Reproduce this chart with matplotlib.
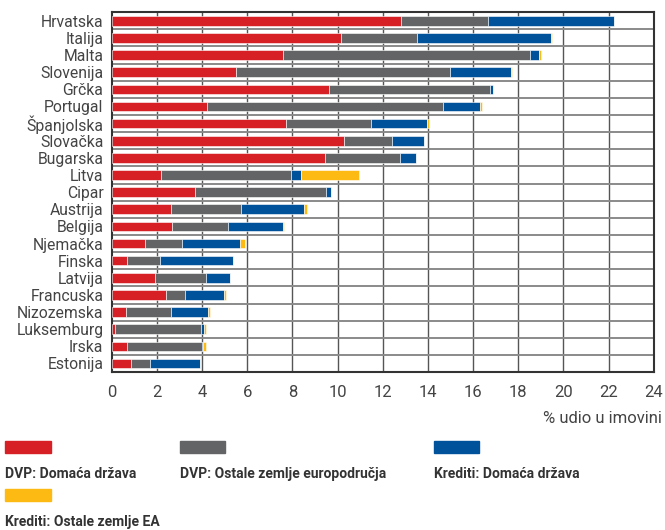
import numpy as np
import matplotlib.pyplot as plt
from matplotlib.patches import Rectangle

plt.rcParams['font.family'] = ['Liberation Sans Narrow', 'Roboto', 'DejaVu Sans']

countries = ["Hrvatska", "Italija", "Malta", "Slovenija", "Grčka", "Portugal",
             "Španjolska", "Slovačka", "Bugarska", "Litva", "Cipar", "Austrija",
             "Belgija", "Njemačka", "Finska", "Latvija", "Francuska", "Nizozemska",
             "Luksemburg", "Irska", "Estonija"]

dvp_domestic = [12.80, 10.14, 7.59, 5.50, 9.62, 4.24, 7.71, 10.27, 9.43, 2.18, 3.68,
                2.63, 2.69, 1.48, 0.69, 1.92, 2.41, 0.63, 0.13, 0.69, 0.86]
dvp_other_ea = [3.85, 3.40, 10.92, 9.47, 7.12, 10.45, 3.77, 2.16, 3.35, 5.76, 5.80,
                3.11, 2.48, 1.65, 1.44, 2.27, 0.85, 2.01, 3.84, 3.30, 0.85]
loans_domestic = [5.60, 5.90, 0.41, 2.69, 0.13, 1.61, 2.48, 1.40, 0.70, 0.43, 0.22,
                  2.76, 2.40, 2.54, 3.26, 1.05, 1.70, 1.61, 0.13, 0.04, 2.19]
loans_other_ea = [0.00, 0.07, 0.08, 0.07, 0.00, 0.09, 0.08, 0.00, 0.00, 2.56, 0.00,
                  0.14, 0.08, 0.22, 0.00, 0.00, 0.09, 0.08, 0.08, 0.15, 0.00]

series = [dvp_domestic, dvp_other_ea, loans_domestic, loans_other_ea]
labels = ["DVP: Domaća država", "DVP: Ostale zemlje europodručja",
          "Krediti: Domaća država", "Krediti: Ostale zemlje EA"]
colors = ["#d71f26", "#636466", "#00529b", "#fdba12"]

xticks = list(range(0, 25, 2))

fig = plt.figure(figsize=(6.65, 5.3), dpi=100)
ax = fig.add_axes([0.168, 0.298, 0.815, 0.679])

y = np.arange(len(countries))
left = np.zeros(len(countries))
for vals, col in zip(series, colors):
    vals = np.array(vals)
    ax.barh(y, vals, left=left, height=0.56, color=col, edgecolor="white",
            linewidth=0.4, zorder=3)
    left += vals

ax.set_ylim(len(countries) - 0.5, -0.5)
ax.set_xlim(0, 24)
ax.set_xticks(xticks)
ax.set_yticks(y)
ax.set_yticklabels(countries)

for xv in xticks[1:-1]:
    ax.axvline(xv, color="#555555", lw=1.0, zorder=1)
for yv in np.arange(0.5, len(countries) - 0.5, 1):
    ax.axhline(yv, color="#8a8a8a", lw=1.4, zorder=1)

for s in ax.spines.values():
    s.set_color("#333333")
    s.set_linewidth(1.5)

ax.tick_params(axis="both", length=0, labelsize=12, colors="#444444")
ax.tick_params(axis="y", labelsize=11.3, pad=6)
ax.tick_params(axis="x", pad=9)

fig.text(0.995, 0.21, "% udio u imovini", ha="right", va="center",
         fontsize=12, color="#444444")

# legend: colour patch above each label
legend_pos = [(0.008, 0.145), (0.27, 0.145), (0.652, 0.145), (0.008, 0.055)]
for (lx, ly), lab, col in zip(legend_pos, labels, colors):
    fig.patches.append(Rectangle((lx, ly), 0.069, 0.022, color=col,
                                 transform=fig.transFigure, figure=fig))
    fig.text(lx, ly - 0.04, lab, ha="left", va="center", fontsize=10,
             fontweight="bold", color="#333333")

fig.savefig("out.png", dpi=100)
